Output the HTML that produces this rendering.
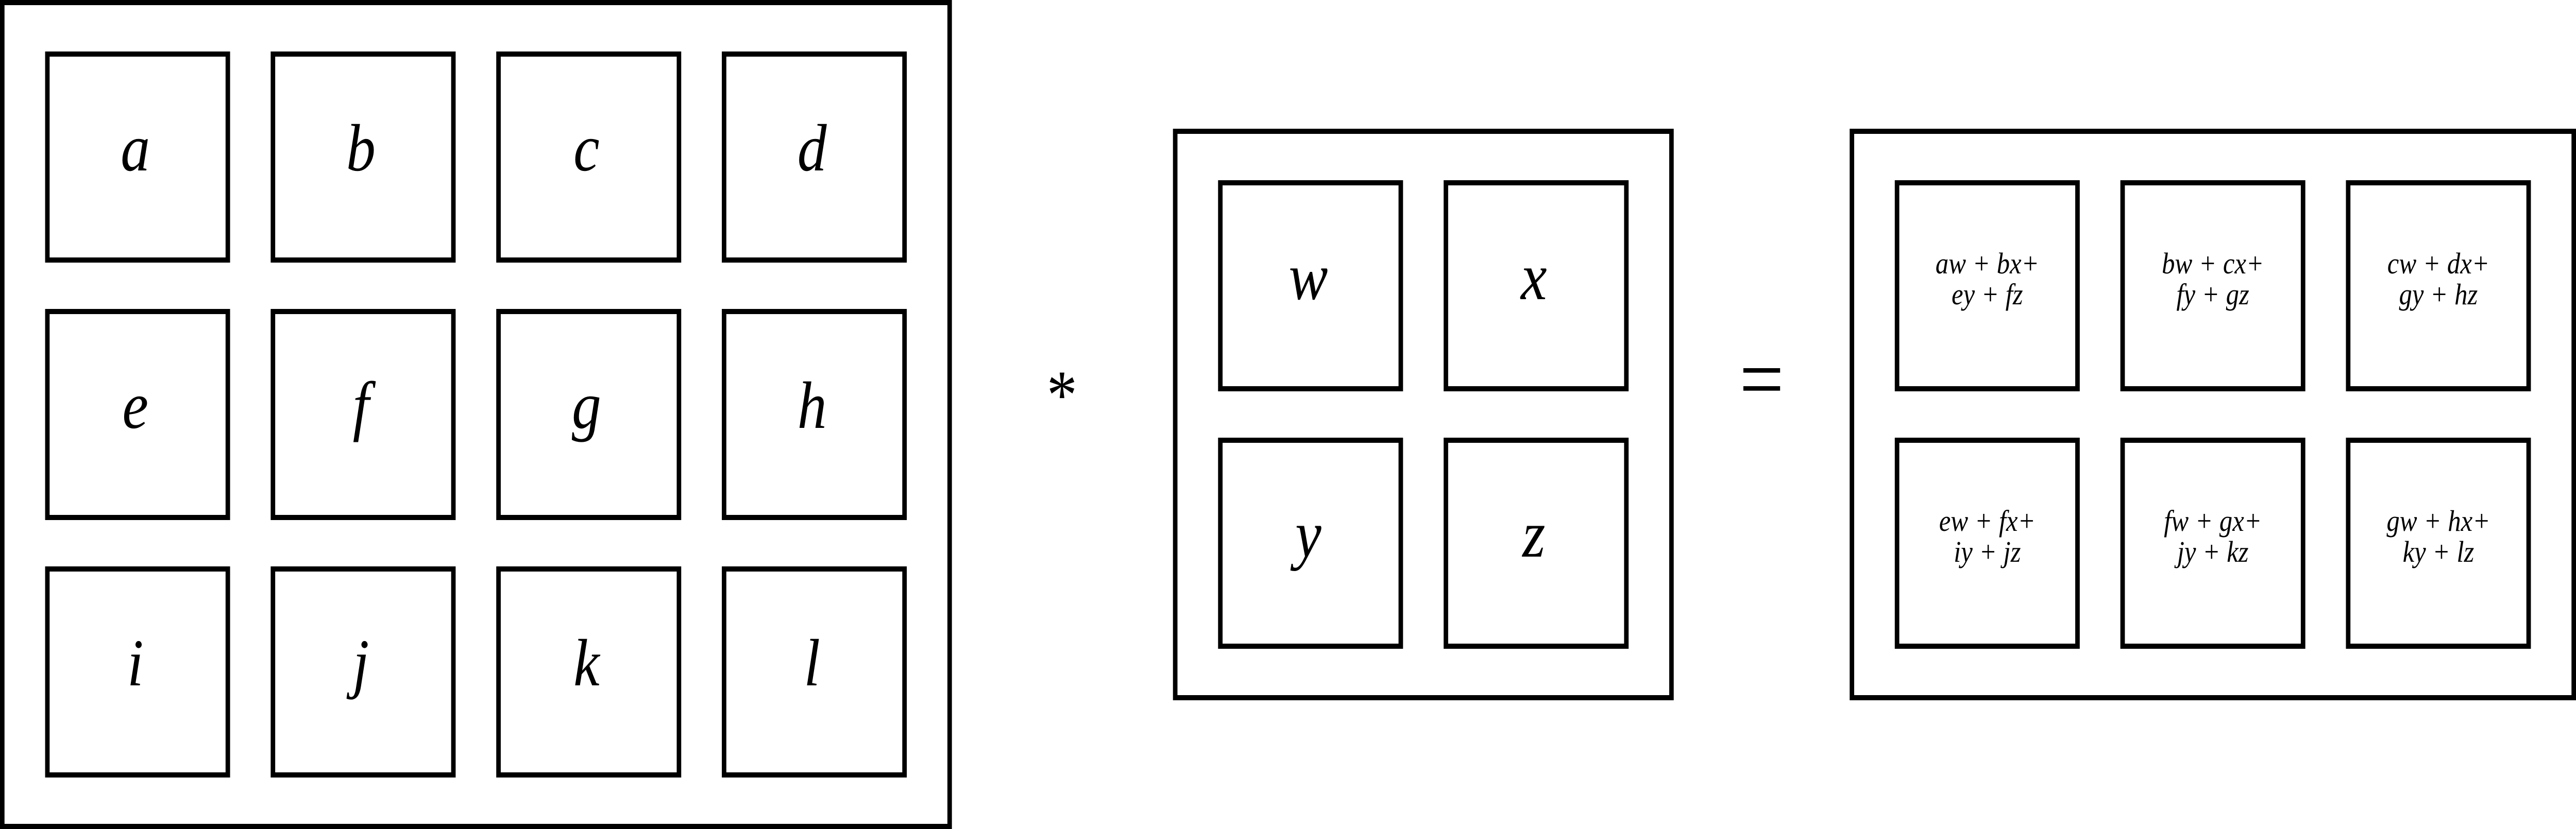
<!DOCTYPE html>
<html>
<head>
<meta charset="utf-8">
<style>
  html, body { margin: 0; padding: 0; background: #fff; overflow: hidden; width: 100%; height: 100%; }
  svg { display: block; width: 100vw; height: 100vh; }
  text { font-family: "Liberation Serif", "DejaVu Serif", serif; font-style: italic; fill: #000; }
  .op { font-style: normal; }
</style>
</head>
<body>
<svg id="fig" viewBox="0 0 5710 1610" preserveAspectRatio="none" xmlns="http://www.w3.org/2000/svg"></svg>
<script>
const leftCells = [["a","b","c","d"],["e","f","g","h"],["i","j","k","l"]];
const kernelCells = [["w","x"],["y","z"]];
const resultLine1 = [["aw + bx+","bw + cx+","cw + dx+"],["ew + fx+","fw + gx+","gw + hx+"]];
const resultLine2 = [["ey + fz","fy + gz","gy + hz"],["iy + jz","jy + kz","ky + lz"]];

const NS = "http://www.w3.org/2000/svg";
const svg = document.getElementById("fig");
const SW = 10, CELL = 410, PITCH = 500, PAD = 100;

function rect(x, y, w, h, name) {
  const r = document.createElementNS(NS, "rect");
  r.setAttribute("x", x + SW / 2);
  r.setAttribute("y", y + SW / 2);
  r.setAttribute("width", w - SW);
  r.setAttribute("height", h - SW);
  r.setAttribute("fill", "none");
  r.setAttribute("stroke", "#000");
  r.setAttribute("stroke-width", SW);
  
  
  svg.appendChild(r);
  return r;
}
function txt(x, y, s, size, name, cls) {
  const t = document.createElementNS(NS, "text");
  t.setAttribute("x", x);
  t.setAttribute("y", y);
  t.setAttribute("font-size", size);
  t.setAttribute("text-anchor", "middle");
  if (cls) t.setAttribute("class", cls);
  t.textContent = s;
  
  
  svg.appendChild(t);
  return t;
}
function matrix(ox, oy, rows, cols, name) {
  rect(ox, oy, PAD * 2 + (cols - 1) * PITCH + CELL, PAD * 2 + (rows - 1) * PITCH + CELL, name + "-frame");
}

matrix(0, 0, 3, 4, "input-matrix");
leftCells.forEach((row, r) => row.forEach((v, c) => {
  const x = PAD + c * PITCH, y = PAD + r * PITCH;
  rect(x, y, CELL, CELL, "input-cell-" + v);
  txt(x + CELL / 2 - 5, y + 231, v, 130, "input-label-" + v);
}));

txt(2354, 812, "*", 135, "multiply-operator", "op");

const KX = 2600, KY = 250;
matrix(KX, KY, 2, 2, "kernel-matrix");
kernelCells.forEach((row, r) => row.forEach((v, c) => {
  const x = KX + PAD + c * PITCH, y = KY + PAD + r * PITCH;
  rect(x, y, CELL, CELL, "kernel-cell-" + v);
  txt(x + CELL / 2 - 5, y + 231, v, 130, "kernel-label-" + v);
}));

txt(3905, 795, "=", 175, "equals-operator", "op");

const RX = 4100, RY = 250;
matrix(RX, RY, 2, 3, "result-matrix");
resultLine1.forEach((row, r) => row.forEach((v, c) => {
  const x = RX + PAD + c * PITCH, y = RY + PAD + r * PITCH;
  rect(x, y, CELL, CELL, "result-cell-" + r + "-" + c);
  txt(x + CELL / 2, y + 181, v, 58, "result-line1-" + r + "-" + c);
  txt(x + CELL / 2, y + 241, resultLine2[r][c], 58, "result-line2-" + r + "-" + c);
}));
</script>
</body>
</html>
